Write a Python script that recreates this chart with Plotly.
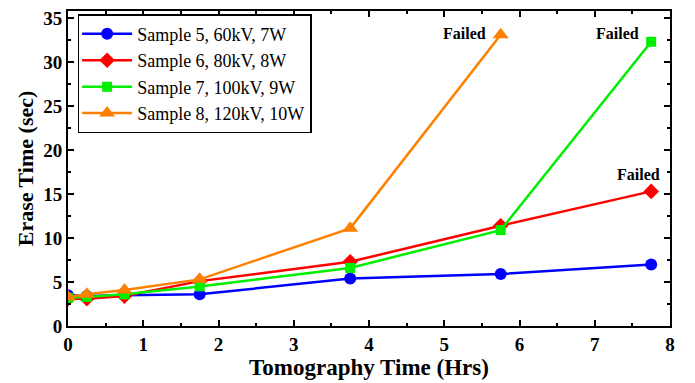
import plotly.graph_objects as go

x_hrs = [0, 0.25, 0.75, 1.75, 3.75, 5.75, 7.75]
s5 = [3.5, 3.4, 3.5, 3.6, 5.4, 5.9, 7.0]
s6 = [3.1, 3.1, 3.4, 5.1, 7.3, 11.4, 15.3]
s7 = [3.2, 3.3, 3.6, 4.5, 6.6, 10.9, 32.3]
s8_x = [0, 0.25, 0.75, 1.75, 3.75, 5.75]
s8 = [3.3, 3.6, 4.1, 5.3, 11.1, 33.1]

names = ["Sample 5, 60kV, 7W", "Sample 6, 80kV, 8W", "Sample 7, 100kV, 9W", "Sample 8, 120kV, 10W"]
colors = ["#0000FF", "#FF0000", "#00EE00", "#FF8000"]
symbols = ["circle", "diamond", "square", "triangle-up"]
sizes = [12, 12, 10, 14]

fail_x = [5.75, 7.75, 7.75]
fail_y = [33.1, 32.3, 15.3]
fail_shift = [(-36, 1), (-34, 8), (-13, 17)]

font_serif = "Liberation Serif"

fig = go.Figure()
for xs, ys, n, c, s, sz in [(x_hrs, s5, names[0], colors[0], symbols[0], sizes[0]),
                            (x_hrs, s6, names[1], colors[1], symbols[1], sizes[1]),
                            (x_hrs, s7, names[2], colors[2], symbols[2], sizes[2]),
                            (s8_x, s8, names[3], colors[3], symbols[3], sizes[3])]:
    fig.add_trace(go.Scatter(x=xs, y=ys, name=n, mode="lines+markers",
                             line=dict(color=c, width=2.5),
                             marker=dict(symbol=s, size=sz, color=c)))

for xv, yv, (dx, dy) in zip(fail_x, fail_y, fail_shift):
    fig.add_annotation(x=xv, y=yv, text="<b>Failed</b>", showarrow=False,
                       xshift=dx, yshift=dy,
                       font=dict(family=font_serif, size=16, color="black"))

axis_common = dict(showline=True, linecolor="black", linewidth=2, mirror="ticks",
                   ticks="inside", ticklen=6, tickwidth=1.5, tickcolor="black",
                   showgrid=False, zeroline=False,
                   tickfont=dict(family=font_serif, size=19, color="black", weight="bold"))
fig.update_xaxes(range=[0, 8], dtick=1, title=dict(text="<b>Tomography Time (Hrs)</b>",
                 font=dict(family=font_serif, size=23, color="black"), standoff=4),
                 minor=dict(ticks="inside", dtick=0.5, ticklen=3, tickcolor="black"),
                 **axis_common)
fig.update_yaxes(range=[0, 35.8], dtick=5, title=dict(text="<b>Erase Time (sec)</b>",
                 font=dict(family=font_serif, size=22, color="black"), standoff=4),
                 minor=dict(ticks="inside", dtick=2.5, ticklen=3, tickcolor="black"),
                 **axis_common)

fig.update_layout(width=695, height=383, margin=dict(l=68, r=25, t=8, b=53),
                  font=dict(family=font_serif, color="black"),
                  plot_bgcolor="white", paper_bgcolor="white",
                  legend=dict(x=0.016, y=0.99, xanchor="left", yanchor="top",
                              bordercolor="black", borderwidth=1.5, bgcolor="white",
                              font=dict(family=font_serif, size=18, color="black", weight="normal"),
                              tracegroupgap=0, itemwidth=50,
                              indentation=-2))
fig.write_html("out.html")
